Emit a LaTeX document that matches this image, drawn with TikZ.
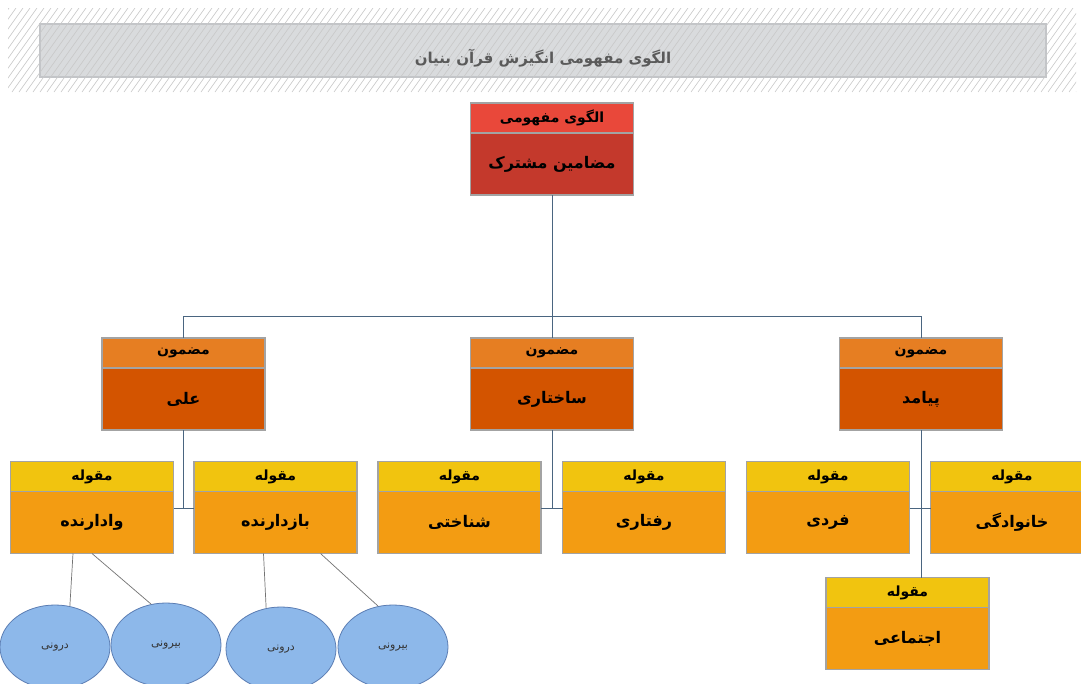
\documentclass[tikz,border=0pt]{standalone}
\usepackage{fontspec}
\newfontfamily\farsi[Script=Arabic]{DejaVu Sans}
\TeXXeTstate=1
\usepackage{xcolor}
\usetikzlibrary{
  positioning,
  calc,
  shapes.geometric
}
\definecolor{hatchgray}{HTML}{C8C8C8}
\definecolor{titlefill}{HTML}{D9DBDD}
\definecolor{titleline}{HTML}{C3C5C8}
\definecolor{titletext}{HTML}{5A5A5A}
\definecolor{boxgray}{HTML}{A3A3A3}
\definecolor{redhead}{HTML}{E9483A}
\definecolor{redbody}{HTML}{C4392C}
\definecolor{orahead}{HTML}{E67E22}
\definecolor{orabody}{HTML}{D35400}
\definecolor{yelhead}{HTML}{F1C40F}
\definecolor{yelbody}{HTML}{F39C12}
\definecolor{ellfill}{HTML}{8DB8EA}
\definecolor{ellline}{HTML}{5B7DB3}
\definecolor{linkblue}{HTML}{4A6580}
\newcommand{\rtl}[1]{\beginR #1\endR}

\begin{document}
\begin{tikzpicture}[
      x=1pt, y=-1pt,
      headbox/.style={rectangle, draw=boxgray, line width=1.3pt, outer sep=0pt, inner sep=0pt, minimum width=163pt, minimum height=30pt, font=\farsi\bfseries\fontsize{14}{16}\selectfont},
      bodybox/.style={rectangle, draw=boxgray, line width=1.3pt, outer sep=0pt, inner sep=0pt, minimum width=163pt, minimum height=62pt, font=\farsi\bfseries\fontsize{16}{18}\selectfont},
      leaf/.style={ellipse, draw=ellline, fill=ellfill, line width=0.8pt, minimum width=110pt, minimum height=84pt, inner sep=0pt, font=\farsi\fontsize{11}{13}\selectfont, text=black!80},
      link/.style={draw=linkblue, line width=0.8pt},
      leaflink/.style={draw=black!55, line width=0.7pt}
    ]
      \useasboundingbox[fill=white] (0,0) rectangle (1081,683);

      % Title band
      \node[rectangle, draw=titleline, fill=titlefill, line width=1.3pt, minimum width=1006pt, minimum height=53pt] (title) at (543,50.5) {};
      \begin{scope}
        \clip (8,8) rectangle (1076,92);
        \foreach \i in {-100,-93,...,1090}
          \draw[hatchgray, line width=0.6pt] (\i,92) -- (\i+60,8);
      \end{scope}
      \node[font=\farsi\bfseries\fontsize{15}{17}\selectfont, text=titletext] (titletext) at ($(title.center)+(0,8)$)
        {\rtl{الگوی مفهومی انگیزش قرآن بنیان}};

      % Top
      \node[headbox, fill=redhead] (hroot) at (552,118) {\rtl{الگوی مفهومی}};
      \node[bodybox, fill=redbody, below=0pt of hroot] (root) {\rtl{مضامین مشترک}};

      % Themes
      \node[headbox, fill=orahead] (hali) at (183.5,353) {\rtl{مضمون}};
      \node[bodybox, fill=orabody, below=0pt of hali] (ali) {\rtl{علی}};
      \node[headbox, fill=orahead] (hsakh) at (552,353) {\rtl{مضمون}};
      \node[bodybox, fill=orabody, below=0pt of hsakh] (sakh) {\rtl{ساختاری}};
      \node[headbox, fill=orahead] (hpay) at (921,353) {\rtl{مضمون}};
      \node[bodybox, fill=orabody, below=0pt of hpay] (pay) {\rtl{پیامد}};

      % Categories
      \node[headbox, fill=yelhead] (hvad) at (92,476.5) {\rtl{مقوله}};
      \node[bodybox, fill=yelbody, below=0pt of hvad] (vad) {\rtl{وادارنده}};
      \node[headbox, fill=yelhead] (hbaz) at (275.5,476.5) {\rtl{مقوله}};
      \node[bodybox, fill=yelbody, below=0pt of hbaz] (baz) {\rtl{بازدارنده}};
      \node[headbox, fill=yelhead] (hshen) at (459.5,476.5) {\rtl{مقوله}};
      \node[bodybox, fill=yelbody, below=0pt of hshen] (shen) {\rtl{شناختی}};
      \node[headbox, fill=yelhead] (hraft) at (644,476.5) {\rtl{مقوله}};
      \node[bodybox, fill=yelbody, below=0pt of hraft] (raft) {\rtl{رفتاری}};
      \node[headbox, fill=yelhead] (hfard) at (828,476.5) {\rtl{مقوله}};
      \node[bodybox, fill=yelbody, below=0pt of hfard] (fard) {\rtl{فردی}};
      \node[headbox, fill=yelhead] (hkhan) at (1012,476.5) {\rtl{مقوله}};
      \node[bodybox, fill=yelbody, below=0pt of hkhan] (khan) {\rtl{خانوادگی}};
      \node[headbox, fill=yelhead] (hejt) at (907.5,592.5) {\rtl{مقوله}};
      \node[bodybox, fill=yelbody, below=0pt of hejt] (ejt) {\rtl{اجتماعی}};

      % Leaves
      \node[leaf] (vadin) at (55,647) {\rtl{درونی}};
      \node[leaf] (vadout) at (166,645) {\rtl{بیرونی}};
      \node[leaf] (bazin) at (281,649) {\rtl{درونی}};
      \node[leaf] (bazout) at (393,647) {\rtl{بیرونی}};

      % Links
      \draw[link] (root.south) -- ++(0,121) coordinate (fork);
      \draw[link] (hali.north |- fork) -- (hpay.north |- fork);
      \draw[link] (hali.north |- fork) -- (hali.north);
      \draw[link] (fork) -- (hsakh.north);
      \draw[link] (hpay.north |- fork) -- (hpay.north);

      \draw[link] (ali.south) -- ++(0,78) coordinate (jali);
      \draw[link] (vad.east |- jali) -- (baz.west |- jali);
      \draw[link] (sakh.south) -- ++(0,78) coordinate (jsakh);
      \draw[link] (shen.east |- jsakh) -- (raft.west |- jsakh);
      \draw[link] (pay.south) -- (pay.south |- hejt.north);
      \path (pay.south) ++(0,78) coordinate (jpay);
      \draw[link] (fard.east |- jpay) -- (khan.west |- jpay);

      \draw[leaflink] ($(vad.south)+(-19,0)$) -- (vadin.70);
      \draw[leaflink] (vad.south) -- (vadout.110);
      \draw[leaflink] ($(baz.south)+(-12,0)$) -- (bazin.110);
      \draw[leaflink] ($(baz.south)+(45,0)$) -- (bazout.110);
    \end{tikzpicture}
\end{document}
